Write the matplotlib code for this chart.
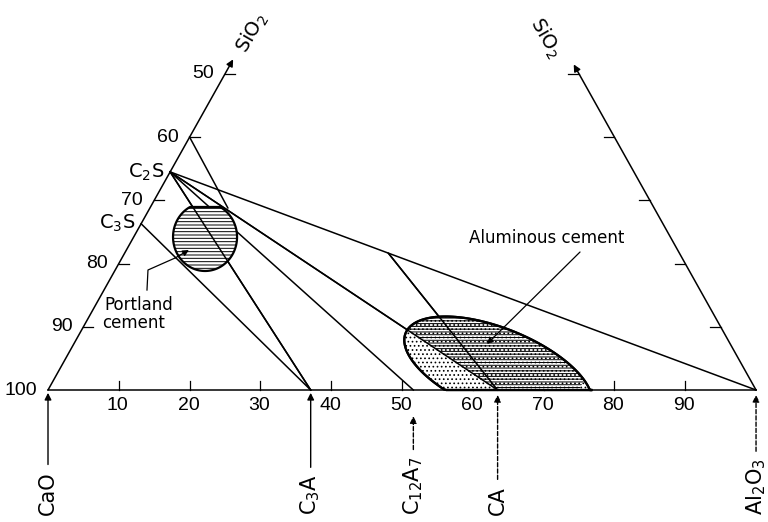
import numpy as np
import matplotlib
matplotlib.use("Agg")
import matplotlib.pyplot as plt
from matplotlib.patches import Polygon

plt.rcParams['mathtext.fontset'] = 'dejavusans'
plt.rcParams['hatch.linewidth'] = 0.7

# --- data: compositions in wt% (Al2O3, SiO2), CaO is the rest ---
bottom_ticks = [10, 20, 30, 40, 50, 60, 70, 80, 90]
left_labels = [100, 90, 80, 70, 60, 50]          # CaO along the CaO-SiO2 side
right_ticks = [10, 20, 30, 40, 50]               # SiO2 along the Al2O3-SiO2 side

point_names = ["C2S", "C3S", "C3A", "C12A7", "CA", "Al2O3", "C2AS", "S40", "P_top"]
point_al = [0, 0, 37.1, 51.6, 63.5, 100, 37.3, 0, 11.0]
point_si = [34.5, 26.3, 0, 0, 0, 0, 21.6, 40, 28.8]

tie_from = ["C2S", "C2S", "C2S", "C2S", "C3S", "C2AS", "S40"]
tie_to = ["C3A", "C12A7", "CA", "Al2O3", "C3A", "CA", "P_top"]

edge_names = ["C2S", "C3S"]
edge_texts = ["C$_2$S", "C$_3$S"]

bottom_names = ["CaO", "C$_3$A", "C$_{12}$A$_7$", "CA", "Al$_2$O$_3$"]
bottom_al = [0, 37.1, 51.6, 63.5, 100]
bottom_gap = [0.4, 0.4, 3.7, 0.7, 0.7]     # gap between arrow tip and base line
bottom_dashed = [False, False, True, True, True]

SQ = np.sqrt(3) / 2 * 1.031   # the scanned drawing is a little taller than equilateral


def to_xy(al, si):
    return al + si / 2.0, si * SQ


pts = {n: to_xy(a, s) for n, a, s in zip(point_names, point_al, point_si)}

fig = plt.figure(figsize=(7.68, 5.22), dpi=100)
ax = fig.add_axes([0, 0, 1, 1])
ax.set_xlim(-6.78, 101.69)
ax.set_ylim(-18.64, 55.08)
ax.axis('off')

LW = 1.1
K = 'black'
num_font = ['Liberation Sans', 'DejaVu Sans']

# --- triangle sides ---
ax.plot([0, 100], [0, 0], color=K, lw=LW)
ax.annotate('', xy=to_xy(0, 52.3), xytext=to_xy(0, 0),
            arrowprops=dict(arrowstyle='-|>', color=K, lw=LW, shrinkA=0, shrinkB=0,
                            mutation_scale=10))
ax.annotate('', xy=to_xy(48.5, 51.5), xytext=to_xy(100, 0),
            arrowprops=dict(arrowstyle='-|>', color=K, lw=LW, shrinkA=0, shrinkB=0,
                            mutation_scale=10))
ax.text(28.8, 50.4, 'SiO$_2$', rotation=60, fontsize=14, ha='center', va='center')
ax.text(70.2, 49.7, 'SiO$_2$', rotation=-60, fontsize=14, ha='center', va='center')

# ticks and labels on the base
for t in bottom_ticks:
    ax.plot([t, t], [0, 1.3], color=K, lw=0.9)
    ax.annotate(str(t), xy=(t, 0), xytext=(-1, -15), textcoords='offset pixels',
                ha='center', va='center', fontsize=14, family=num_font)

# ticks and labels on the left side
for v in left_labels:
    x, y = to_xy(0, 100 - v)
    if v != 100:
        ax.plot([x, x + 1.4], [y, y], color=K, lw=0.9)
    ax.annotate(str(v), xy=(x, y), xytext=(-11, 0), textcoords='offset pixels',
                ha='right', va='center', fontsize=14, family=num_font)

# ticks on the right side
for s in right_ticks:
    x, y = to_xy(100 - s, s)
    ax.plot([x - 1.5, x], [y, y], color=K, lw=0.9)

# --- tie lines ---
for a, b in zip(tie_from, tie_to):
    ax.plot([pts[a][0], pts[b][0]], [pts[a][1], pts[b][1]], color=K, lw=LW)

for n, t in zip(edge_names, edge_texts):
    ax.annotate(t, xy=pts[n], xytext=(-6, 0), textcoords='offset pixels',
                ha='right', va='center', fontsize=14)

# --- Portland cement field ---
th = np.linspace(0, 2 * np.pi, 200)
px_ = 22.18 + 4.52 * np.cos(th)
py_ = np.minimum(21.61 + 4.80 * np.sin(th), 25.85)
portland = Polygon(np.column_stack([px_, py_]), closed=True, facecolor='white',
                   edgecolor=K, lw=1.6, hatch='-----', zorder=3)
ax.add_patch(portland)
ax.plot([pts["C2S"][0], pts["C3A"][0]], [pts["C2S"][1], pts["C3A"][1]], color=K,
        lw=LW, zorder=4)

# --- aluminous cement field ---
ang = np.deg2rad(-22)
ex = 14.12 * np.cos(th)
ey = 5.93 * np.sin(th)
ax_ = 63.6 + ex * np.cos(ang) - ey * np.sin(ang)
ay_ = np.maximum(2.75 + ex * np.sin(ang) + ey * np.cos(ang), 0)
alum = Polygon(np.column_stack([ax_, ay_]), closed=True, facecolor='white',
               edgecolor=K, lw=1.6, hatch='....', zorder=3)
ax.add_patch(alum)
# dashed texture on the part right of the C2S-CA join
c2s, ca = pts["C2S"], pts["CA"]
right_part = Polygon([c2s, ca, (75, 0), (90, 30)], closed=True, facecolor='none',
                     edgecolor=K, lw=0, hatch='------', zorder=3)
ax.add_patch(right_part)
right_part.set_clip_path(alum)
for a, b in [("C2S", "CA"), ("C2AS", "CA")]:
    ax.plot([pts[a][0], pts[b][0]], [pts[a][1], pts[b][1]], color=K, lw=LW, zorder=4)
ax.add_patch(Polygon(np.column_stack([ax_, ay_]), closed=True, facecolor='none',
                     edgecolor=K, lw=1.6, zorder=4))

# --- labels of the fields ---
ax.text(7.9, 12.0, 'Portland', fontsize=12, ha='left', va='center')
ax.text(7.7, 9.46, 'cement', fontsize=12, ha='left', va='center')
ax.plot([13.98, 14.12, 17.94], [14.12, 16.95, 18.64], color=K, lw=0.9, zorder=5)
ax.annotate('', xy=(19.9, 19.77), xytext=(17.94, 18.64),
            arrowprops=dict(arrowstyle='-|>', color=K, lw=0.9, shrinkA=0, shrinkB=0,
                            mutation_scale=9), zorder=5)
ax.text(70.48, 21.47, 'Aluminous cement', fontsize=12, ha='center', va='center')
ax.annotate('', xy=(62.0, 6.5), xytext=(75.14, 19.49),
            arrowprops=dict(arrowstyle='-|>', color=K, lw=0.9, shrinkA=0, shrinkB=0,
                            mutation_scale=9), zorder=5)

# --- compounds marked below the base ---
for name, al, gap, dashed in zip(bottom_names, bottom_al, bottom_gap, bottom_dashed):
    ax.annotate(name, xy=(al, -gap), xytext=(al, -17.66), rotation=90,
                ha='center', va='bottom', fontsize=15,
                arrowprops=dict(arrowstyle='-|>', color=K, lw=1.0, shrinkA=3, shrinkB=0,
                                mutation_scale=10,
                                linestyle=(0, (3, 1.5)) if dashed else '-'))

fig.savefig('out.png', dpi=100)
